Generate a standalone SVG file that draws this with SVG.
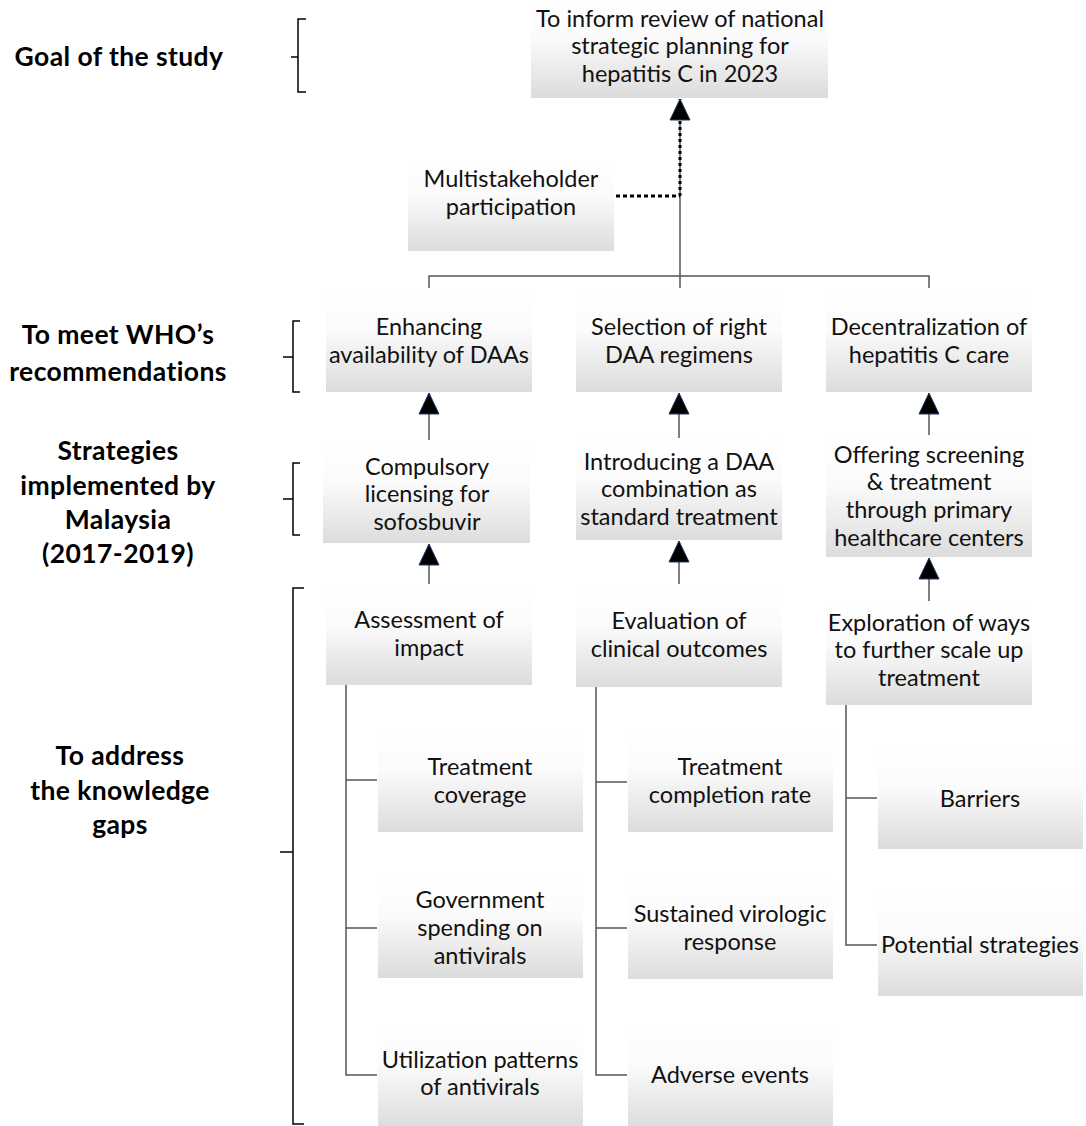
<svg xmlns="http://www.w3.org/2000/svg" width="1086" height="1126" viewBox="0 0 1086 1126">
<defs>
<linearGradient id="g" x1="0" y1="0" x2="0" y2="1">
<stop offset="0" stop-color="#ffffff"/>
<stop offset="0.4" stop-color="#fbfbfb"/>
<stop offset="1" stop-color="#dcdcdc"/>
</linearGradient>
<marker id="ah" markerUnits="userSpaceOnUse" markerWidth="24" markerHeight="24" viewBox="0 0 24 24" refX="22" refY="12" orient="auto">
<path d="M1,2 L22,12 L1,22 Z" fill="#000" stroke="#1f3864" stroke-width="1"/>
</marker>
</defs>
<style>
.b{fill:url(#g)}
.t{font-family:Lato,"Liberation Sans",sans-serif;font-size:23.5px;fill:#111;text-anchor:middle}
.h{font-family:Lato,"Liberation Sans",sans-serif;font-size:26.5px;letter-spacing:0.4px;font-weight:bold;fill:#000;text-anchor:middle}
.c{stroke:#555;stroke-width:1.5;fill:none}
.br{stroke:#000;stroke-width:1.5;fill:none}
</style>
<rect width="1086" height="1126" fill="#fff"/>

<g id="labels">
<text class="h" x="119" y="66">Goal of the study</text>
<path class="br" d="M306,19 H298 V92 H306 M298,57 H291"/>
<text class="h" x="118" y="344">To meet WHO’s</text>
<text class="h" x="118" y="381">recommendations</text>
<path class="br" d="M300,321 H293 V392 H300 M293,357 H283"/>
<text class="h" x="118" y="460">Strategies</text>
<text class="h" x="118" y="495">implemented by</text>
<text class="h" x="118" y="529">Malaysia</text>
<text class="h" x="118" y="563">(2017-2019)</text>
<path class="br" d="M300,463 H293 V535 H300 M293,499 H283"/>
<text class="h" x="120" y="765">To address</text>
<text class="h" x="120" y="800">the knowledge</text>
<text class="h" x="120" y="834">gaps</text>
<path class="br" d="M304,588 H293 V1124 H304 M293,852 H280"/>
</g>

<g id="connectors">
<line class="c" x1="680" y1="122" x2="680" y2="290"/>
<line x1="680" y1="196" x2="680" y2="99" stroke="#000" stroke-width="3" stroke-dasharray="3,3" marker-end="url(#ah)"/>
<line x1="616" y1="196" x2="680" y2="196" stroke="#000" stroke-width="3" stroke-dasharray="4,3"/>
<path class="c" d="M429,290 V276 H929 V290"/>
<line class="c" x1="429" y1="440" x2="429" y2="393" marker-end="url(#ah)"/>
<line class="c" x1="679" y1="438" x2="679" y2="393" marker-end="url(#ah)"/>
<line class="c" x1="929" y1="435" x2="929" y2="393" marker-end="url(#ah)"/>
<line class="c" x1="429" y1="584" x2="429" y2="544" marker-end="url(#ah)"/>
<line class="c" x1="679" y1="584" x2="679" y2="541" marker-end="url(#ah)"/>
<line class="c" x1="929" y1="601" x2="929" y2="558" marker-end="url(#ah)"/>
<path class="c" d="M346,685 V1075 H377 M346,780 H377 M346,928 H377"/>
<path class="c" d="M596,687 V1075 H627 M596,782 H627 M596,928 H627"/>
<path class="c" d="M846,705 V945 H877 M846,798 H877"/>
</g>

<g id="goal"><rect class="b" x="531" y="-4" width="297" height="102"/>
<text class="t" x="680" y="27">To inform review of national</text>
<text class="t" x="680" y="54">strategic planning for</text>
<text class="t" x="680" y="82">hepatitis C in 2023</text></g>

<g id="multi"><rect class="b" x="408" y="158" width="206" height="93"/>
<text class="t" x="511" y="187">Multistakeholder</text>
<text class="t" x="511" y="215">participation</text></g>

<g id="enh"><rect class="b" x="326" y="288" width="206" height="104"/>
<text class="t" x="429" y="335">Enhancing</text>
<text class="t" x="429" y="363">availability of DAAs</text></g>
<g id="sel"><rect class="b" x="576" y="288" width="206" height="104"/>
<text class="t" x="679" y="335">Selection of right</text>
<text class="t" x="679" y="363">DAA regimens</text></g>
<g id="dec"><rect class="b" x="826" y="288" width="206" height="104"/>
<text class="t" x="929" y="335">Decentralization of</text>
<text class="t" x="929" y="363">hepatitis C care</text></g>

<g id="comp"><rect class="b" x="323" y="442" width="207" height="101"/>
<text class="t" x="427" y="475">Compulsory</text>
<text class="t" x="427" y="502">licensing for</text>
<text class="t" x="427" y="530">sofosbuvir</text></g>
<g id="intro"><rect class="b" x="576" y="438" width="206" height="102"/>
<text class="t" x="679" y="470">Introducing a DAA</text>
<text class="t" x="679" y="497">combination as</text>
<text class="t" x="679" y="525">standard treatment</text></g>
<g id="offer"><rect class="b" x="826" y="435" width="206" height="122"/>
<text class="t" x="929" y="463">Offering screening</text>
<text class="t" x="929" y="490">&amp; treatment</text>
<text class="t" x="929" y="518">through primary</text>
<text class="t" x="929" y="546">healthcare centers</text></g>

<g id="assess"><rect class="b" x="326" y="585" width="206" height="100"/>
<text class="t" x="429" y="628">Assessment of</text>
<text class="t" x="429" y="656">impact</text></g>
<g id="eval"><rect class="b" x="576" y="585" width="206" height="102"/>
<text class="t" x="679" y="629">Evaluation of</text>
<text class="t" x="679" y="657">clinical outcomes</text></g>
<g id="explore"><rect class="b" x="826" y="602" width="206" height="103"/>
<text class="t" x="929" y="631">Exploration of ways</text>
<text class="t" x="929" y="658">to further scale up</text>
<text class="t" x="929" y="686">treatment</text></g>

<g id="cov"><rect class="b" x="378" y="727" width="205" height="105"/>
<text class="t" x="480" y="775">Treatment</text>
<text class="t" x="480" y="803">coverage</text></g>
<g id="gov"><rect class="b" x="378" y="875" width="205" height="103"/>
<text class="t" x="480" y="908">Government</text>
<text class="t" x="480" y="936">spending on</text>
<text class="t" x="480" y="964">antivirals</text></g>
<g id="util"><rect class="b" x="378" y="1022" width="205" height="106"/>
<text class="t" x="480" y="1068">Utilization patterns</text>
<text class="t" x="480" y="1095">of antivirals</text></g>

<g id="compl"><rect class="b" x="628" y="727" width="205" height="105"/>
<text class="t" x="730" y="775">Treatment</text>
<text class="t" x="730" y="803">completion rate</text></g>
<g id="svr"><rect class="b" x="628" y="877" width="205" height="102"/>
<text class="t" x="730" y="922">Sustained virologic</text>
<text class="t" x="730" y="950">response</text></g>
<g id="adv"><rect class="b" x="628" y="1022" width="205" height="106"/>
<text class="t" x="730" y="1083">Adverse events</text></g>

<g id="barr"><rect class="b" x="878" y="746" width="205" height="103"/>
<text class="t" x="980" y="807">Barriers</text></g>
<g id="pot"><rect class="b" x="878" y="893" width="205" height="103"/>
<text class="t" x="980" y="953">Potential strategies</text></g>
</svg>
